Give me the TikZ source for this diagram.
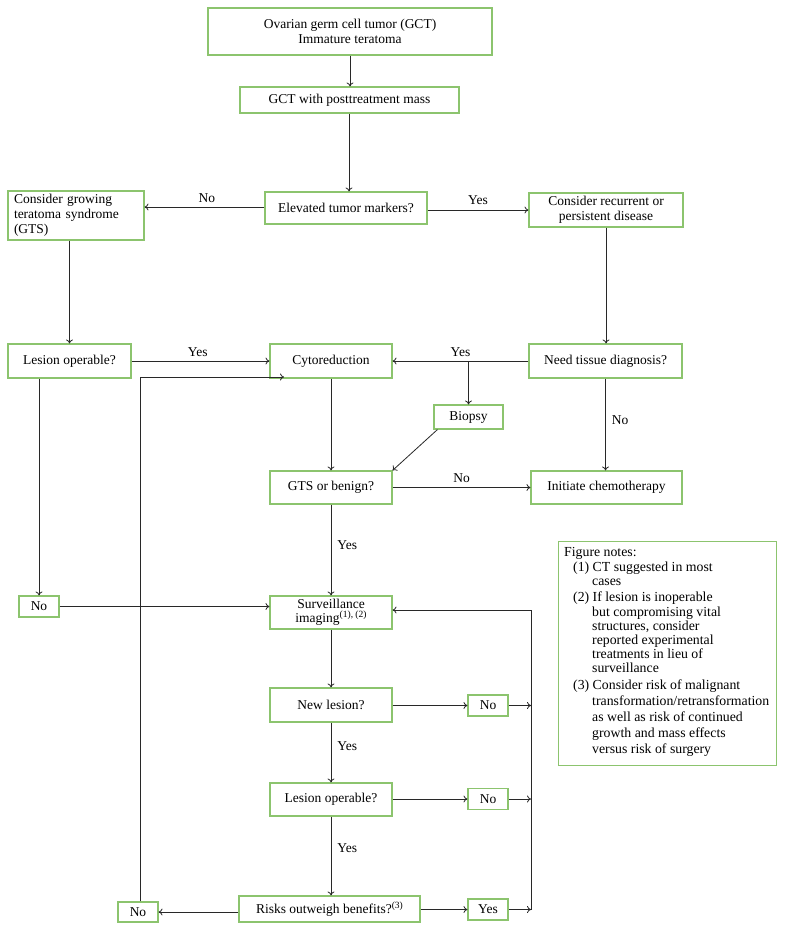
\documentclass[tikz,border=0pt]{standalone}
\usepackage{fontspec}
\setmainfont{Liberation Serif}
\usetikzlibrary{arrows.meta}
\definecolor{boxgreen}{RGB}{140,196,110}
\definecolor{linegray}{RGB}{40,40,40}
\newcommand{\supnote}[1]{\raisebox{5pt}{\fontsize{9.5}{10}\selectfont #1}}
\tikzset{
  box/.style={draw=boxgreen, line width=1.1pt, rectangle, inner sep=0pt, align=center, font=\fontsize{13.5}{15}\selectfont, text=black},
  arr/.style={draw=linegray, line width=0.8pt, -{To[length=4pt,width=7pt]}},
  ln/.style={draw=linegray, line width=0.8pt},
  lbl/.style={font=\fontsize{13.5}{15}\selectfont, inner sep=0pt},
}
\begin{document}
\begin{tikzpicture}[x=1pt,y=-1pt]
\useasboundingbox[fill=white] (0,0) rectangle (789,931);
% nodes
\node[box, minimum width=284pt, minimum height=47pt] (top) at (350,31.5) {Ovarian germ cell tumor (GCT)\\Immature teratoma};
\node[box, minimum width=219pt, minimum height=26pt] (gct) at (349.5,100) {GCT with posttreatment mass};
\node[box, minimum width=162pt, minimum height=32pt] (elev) at (346,208) {Elevated tumor markers?};
\node[box, minimum width=136pt, minimum height=49pt, align=left, text width=124pt, inner xsep=6pt] (gts) at (76,215.5) {Consider growing\\teratoma syndrome\\(GTS)};
\node[box, minimum width=154pt, minimum height=34pt] (recur) at (606,210) {Consider recurrent or\\persistent disease};
\node[box, minimum width=123pt, minimum height=34pt] (lesop1) at (69.5,361) {Lesion operable?};
\node[box, minimum width=122pt, minimum height=34pt] (cyto) at (331,361) {Cytoreduction};
\node[box, minimum width=153pt, minimum height=34pt] (need) at (605.5,361) {Need tissue diagnosis?};
\node[box, minimum width=69pt, minimum height=24pt] (biopsy) at (468.5,417) {Biopsy};
\node[box, minimum width=122pt, minimum height=33pt] (gtsb) at (331,487.5) {GTS or benign?};
\node[box, minimum width=151pt, minimum height=33pt] (chemo) at (606.5,487.5) {Initiate chemotherapy};
\node[box, minimum width=40pt, minimum height=21pt] (noL) at (39,606.5) {No};
\node[box, minimum width=122pt, minimum height=33pt, font=\fontsize{13.5}{14}\selectfont] (surv) at (331,612.5) {Surveillance\\imaging\supnote{(1), (2)}};
\node[box, minimum width=122pt, minimum height=34pt] (newles) at (331,705) {New lesion?};
\node[box, minimum width=40pt, minimum height=21pt] (no1) at (488,705.5) {No};
\node[box, minimum width=122pt, minimum height=33pt] (lesop2) at (331,799.5) {Lesion operable?};
\node[box, minimum width=40pt, minimum height=21pt] (no2) at (488,799) {No};
\node[box, minimum width=181pt, minimum height=26pt] (risk) at (329.5,909) {Risks outweigh benefits?\supnote{(3)}};
\node[box, minimum width=40pt, minimum height=21pt] (yesR) at (488,909.5) {Yes};
\node[box, minimum width=40pt, minimum height=20pt] (noB) at (138,912) {No};
% notes
\node[box, minimum width=218pt, minimum height=224pt, anchor=north west] (notes) at (558,541) {};
\node[lbl, anchor=north west, align=left, font=\fontsize{13.8}{14.2}\selectfont] (notestext) at (564,547.5) {Figure notes:\\[0.5pt]
\hspace*{9pt}(1) CT suggested in most\\
\hspace*{28pt}cases\\[2pt]
\hspace*{9pt}(2) If lesion is inoperable\\
\hspace*{28pt}but compromising vital\\
\hspace*{28pt}structures, consider\\
\hspace*{28pt}reported experimental\\
\hspace*{28pt}treatments in lieu of\\
\hspace*{28pt}surveillance\\[2pt]
\hspace*{9pt}(3) Consider risk of malignant\\[2pt]
\hspace*{28pt}transformation/retransformation\\[2pt]
\hspace*{28pt}as well as risk of continued\\[2pt]
\hspace*{28pt}growth and mass effects\\[2pt]
\hspace*{28pt}versus risk of surgery};
% helper coordinates
\coordinate (rv1) at (531,705.5);
\coordinate (rv2) at (531,799);
\coordinate (rv3) at (531,909.5);
\coordinate (rvtop) at (531,610);
\coordinate (lvtop) at (140,377);
\coordinate (cin) at (284,377);
% connectors
\draw[arr] (top.south) -- (top.south |- gct.north);
\draw[arr] (gct.south -| elev.north) ++(3,0) coordinate (g1) -- (g1 |- elev.north);
\draw[arr] (elev.west |- 0,207) -- (gts.east |- 0,207) node[lbl, pos=0.48, above=4pt] (lNo1) {No};
\draw[arr] (elev.east |- 0,210) -- (recur.west |- 0,210) node[lbl, pos=0.5, above=5pt] (lYes1) {Yes};
\draw[arr] (recur.south) -- (recur.south |- need.north);
\draw[arr] (gts.south -| lesop1.north) -- (lesop1.north);
\draw[arr] (lesop1) -- (cyto) node[lbl, pos=0.48, above=4pt] (lYes2) {Yes};
\draw[arr] (need) -- (cyto) node[lbl, pos=0.5, above=4pt] (lYes3) {Yes};
\draw[arr] (biopsy.north |- need.west) -- (biopsy.north);
\draw[arr] (biopsy.south west) ++(4,0) -- (gtsb.north east);
\draw[arr] (cyto) -- (gtsb);
\draw[arr] (need.south) -- (need.south |- chemo.north) node[lbl, pos=0.45, right=6pt] (lNo2) {No};
\draw[arr] (gtsb) -- (chemo) node[lbl, pos=0.5, above=4pt] (lNo3) {No};
\draw[arr] (gtsb) -- (surv) node[lbl, pos=0.45, right=6pt] (lYes4) {Yes};
\draw[arr] (noL.north |- lesop1.south) -- (noL.north);
\draw[arr] (noL) -- (surv.west |- noL);
\draw[arr] (surv) -- (newles);
\draw[arr] (newles.east |- no1) -- (no1);
\draw[arr] (no1) -- (rv1);
\draw[arr] (newles) -- (lesop2) node[lbl, pos=0.4, right=6pt] (lYes5) {Yes};
\draw[arr] (lesop2.east |- no2) -- (no2);
\draw[arr] (no2) -- (rv2);
\draw[arr] (lesop2.south) -- (lesop2.south |- risk.north) node[lbl, pos=0.4, right=6pt] (lYes6) {Yes};
\draw[arr] (risk.east |- yesR) -- (yesR);
\draw[arr] (yesR) -- (rv3);
\draw[arr] (risk.west |- noB) -- (noB);
\draw[ln] (rv3) -- (rvtop);
\draw[arr] (rvtop) -- (surv.east |- rvtop);
\draw[ln] (noB.north -| lvtop) -- (lvtop);
\draw[arr] (lvtop) -- (cin);
\end{tikzpicture}
\end{document}
